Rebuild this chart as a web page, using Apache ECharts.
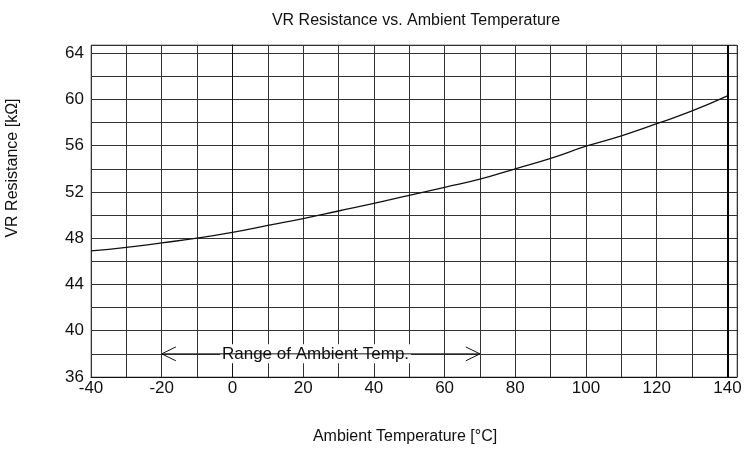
<!DOCTYPE html>
<html>
<head>
<meta charset="utf-8">
<script src="https://cdn.jsdelivr.net/npm/echarts@6/dist/echarts.min.js"></script>
<style>
  html, body { margin: 0; padding: 0; background: #fff; }
  #chart { width: 748px; height: 452px; }
</style>
</head>
<body>
<div id="chart"></div>
<script>
  const temps = [-40, -30, -20, -10, 0, 10, 20, 30, 40, 50, 60, 70, 80, 90, 100, 110, 120, 130, 140]
  const resistance = [46.9, 47.2, 47.6, 48.0, 48.5, 49.1, 49.7, 50.35, 51.0, 51.7, 52.4, 53.1, 54.0, 54.9, 55.95, 56.85, 57.9, 59.0, 60.3]
  const xLabels = [-40, -20, 0, 20, 40, 60, 80, 100, 120, 140]
  const yLabels = [36, 40, 44, 48, 52, 56, 60, 64]
  const rangeStart = -20
  const rangeEnd = 70
  const rangeLevel = 38
  const rangeText = 'Range of Ambient Temp.'

  const font = "'Liberation Sans', Arial, sans-serif"
  const ink = '#111'

  const myChart = echarts.init(document.getElementById('chart'))

  const option = {
    animation: false,
    backgroundColor: '#fff',
    textStyle: { fontFamily: font },
    title: {
      text: 'VR Resistance vs. Ambient Temperature',
      left: 411,
      top: 8,
      textAlign: 'center',
      textStyle: { fontFamily: font, fontSize: 16, fontWeight: 'normal', color: ink }
    },
    grid: {
      left: 91,
      right: 11,
      top: 45,
      bottom: 75,
      containLabel: false,
      outerBoundsMode: 'none',
      show: true,
      borderColor: '#888',
      borderWidth: 1
    },
    xAxis: {
      type: 'value',
      min: -40,
      max: 142.7,
      interval: 10,
      name: 'Ambient Temperature [°C]',
      nameLocation: 'middle',
      nameGap: 52,
      nameTextStyle: { fontFamily: font, fontSize: 16, color: ink, padding: [0, 18, 0, 0] },
      axisLine: { show: true, lineStyle: { color: ink, width: 1 } },
      axisTick: { show: false },
      splitLine: { show: true, lineStyle: { color: '#333', width: 1 } },
      axisLabel: {
        showMaxLabel: false,
        margin: 3,
        fontFamily: font,
        fontSize: 17,
        color: ink,
        formatter: v => (xLabels.indexOf(v) >= 0 ? String(v) : '')
      }
    },
    yAxis: {
      type: 'value',
      min: 36,
      max: 64.7,
      interval: 2,
      name: 'VR Resistance [kΩ]',
      nameLocation: 'middle',
      nameGap: 70,
      nameTextStyle: { fontFamily: font, fontSize: 16, color: ink, padding: [0, 0, 0, 86] },
      axisLine: { show: true, lineStyle: { color: ink, width: 1 } },
      axisTick: { show: false },
      splitLine: { show: true, lineStyle: { color: '#333', width: 1 } },
      axisLabel: {
        showMaxLabel: false,
        margin: 7,
        fontFamily: font,
        fontSize: 17,
        color: ink,
        formatter: v => (yLabels.indexOf(v) >= 0 ? String(v) : '')
      }
    },
    series: [
      {
        type: 'line',
        data: temps.map((t, i) => [t, resistance[i]]),
        smooth: true,
        symbol: 'none',
        lineStyle: { color: ink, width: 1.3 },
        z: 5,
        markLine: {
          silent: true,
          symbol: 'none',
          lineStyle: { color: '#000', width: 2, type: 'solid' },
          label: { show: false },
          data: [{ xAxis: 140 }]
        }
      },
      {
        // range arrow shaft
        type: 'line',
        data: [[rangeStart, rangeLevel], [rangeEnd, rangeLevel]],
        symbol: 'none',
        lineStyle: { color: ink, width: 1 },
        z: 6,
        markPoint: {
          silent: true,
          symbol: 'rect',
          symbolSize: 0.1,
          itemStyle: { color: 'rgba(0,0,0,0)' },
          label: {
            show: true,
            position: 'inside',
            formatter: rangeText,
            fontFamily: font,
            fontSize: 17,
            color: ink,
            backgroundColor: '#fff',
            padding: [1, 2]
          },
          data: [{ coord: [23.5, rangeLevel] }]
        }
      },
      {
        type: 'line',
        data: [[rangeStart + 4, rangeLevel + 0.6], [rangeStart, rangeLevel], [rangeStart + 4, rangeLevel - 0.6]],
        symbol: 'none',
        lineStyle: { color: ink, width: 1 },
        z: 7
      },
      {
        type: 'line',
        data: [[rangeEnd - 4, rangeLevel + 0.6], [rangeEnd, rangeLevel], [rangeEnd - 4, rangeLevel - 0.6]],
        symbol: 'none',
        lineStyle: { color: ink, width: 1 },
        z: 7
      }
    ]
  }

  option && myChart.setOption(option)
</script>
</body>
</html>
